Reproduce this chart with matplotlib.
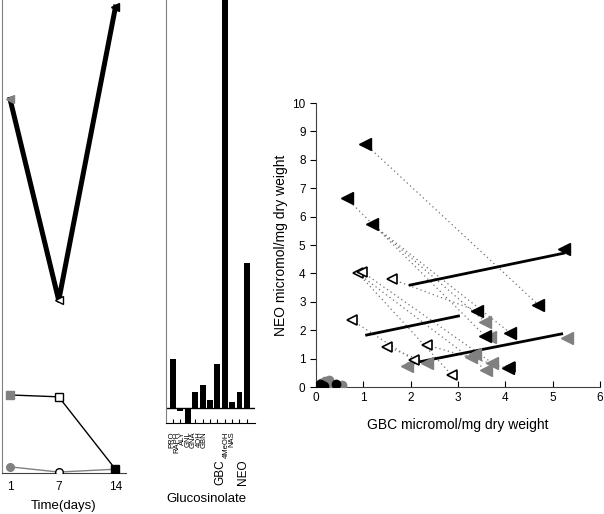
import numpy as np
import matplotlib.pyplot as plt

plt.rcParams['font.family'] = ['Liberation Sans', 'DejaVu Sans']

GRAY = '#808080'

# left panel: time course
days = [1, 7, 14]
neo_line = [7.9, 3.65, 9.85]
sq_line = [1.65, 1.61, 0.08]
circ_line = [0.13, 0.02, 0.08]
day_colors = [GRAY, 'white', 'black']

# middle panel: glucosinolate bars
gsl_names = ['PRO', 'RAPH', 'ALY', 'GNL', 'GNA', '4OH', 'GBN', 'GBC', '4MeOH', 'NAS', 'NEO']
gsl_values = [4.9, -0.3, -1.6, 1.6, 2.3, 0.8, 4.4, 45.0, 0.6, 1.6, 14.5]

# right panel: NEO vs GBC
blk_x = [1.04, 0.65, 1.18, 5.23, 3.40, 4.70, 4.10, 3.57, 4.05]
blk_y = [8.56, 6.64, 5.74, 4.86, 2.68, 2.89, 1.91, 1.80, 0.66]
open_x = [0.89, 0.97, 1.60, 0.75, 1.49, 2.34, 2.06, 2.87, 4.10]
open_y = [4.00, 4.06, 3.80, 2.36, 1.42, 1.48, 0.95, 0.42, 0.70]
gray_x = [3.57, 3.67, 3.27, 3.36, 3.71, 3.59, 5.30, 1.92, 2.34]
gray_y = [2.30, 1.75, 1.05, 1.15, 0.86, 0.60, 1.71, 0.74, 0.86]
bcirc_x = [0.02, 0.05, 0.08, 0.12, 0.17, 0.42]
bcirc_y = [0.00, 0.05, 0.10, 0.08, 0.05, 0.12]
gcirc_x = [0.10, 0.20, 0.27, 0.33, 0.55]
gcirc_y = [0.15, 0.20, 0.25, 0.10, 0.08]
# dotted connections (x0, y0, x1, y1)
links = [
    (1.04, 8.56, 4.70, 2.89),
    (0.65, 6.64, 3.57, 1.80),
    (1.18, 5.74, 4.10, 1.91),
    (1.18, 5.74, 3.57, 2.30),
    (0.89, 4.00, 3.59, 0.60),
    (0.97, 4.06, 3.71, 0.86),
    (1.60, 3.80, 3.40, 2.68),
    (0.75, 2.36, 2.06, 0.95),
    (0.89, 4.00, 2.87, 0.42),
    (1.49, 1.42, 2.34, 0.86),
    (2.34, 1.48, 4.05, 0.66),
]
# fitted lines (x0, y0, x1, y1)
fits = [
    (1.99, 3.59, 5.23, 4.71),
    (1.07, 1.83, 3.01, 2.50),
    (1.95, 0.81, 5.19, 1.87),
]

fig = plt.figure(figsize=(6.04, 5.14), dpi=100)

# ---- left panel
ax1 = fig.add_axes([2/604, 41/514, 124/604, 473/514])
ax1.plot(days, neo_line, color='black', lw=3.6, zorder=2)
ax1.plot(days, sq_line, color='black', lw=1.0, zorder=2)
ax1.plot(days, circ_line, color=GRAY, lw=1.0, zorder=2)
for d, c, y1, y2, y3 in zip(days, day_colors, neo_line, sq_line, circ_line):
    ec = GRAY if c == GRAY else 'black'
    ax1.plot(d, y1, marker='<', ms=6, mfc=c, mec=ec, mew=1, zorder=3)
    ax1.plot(d, y2, marker='s', ms=6, mfc=c, mec=ec, mew=1, zorder=3)
    ax1.plot(d, y3, marker='o', ms=5.5, mfc=c, mec=ec, mew=1, zorder=3)
ax1.set_xlim(0, 15.3)
ax1.set_ylim(0, 10)
ax1.set_xticks(days)
ax1.set_yticks([])
ax1.tick_params(axis='x', length=0, labelsize=8.5, pad=6)
ax1.spines['top'].set_visible(False)
ax1.spines['right'].set_visible(False)
ax1.spines['left'].set_color(GRAY)
ax1.spines['bottom'].set_color('#404040')
ax1.set_xlabel('Time(days)', fontsize=9.5, labelpad=5)
ax1.patch.set_alpha(0)

# ---- middle panel
ax2 = fig.add_axes([166/604, 91/514, 89/604, 423/514])
pos = np.arange(len(gsl_names))
ax2.bar(pos, gsl_values, width=0.8, color='black', zorder=2)
ax2.axhline(0, color='black', lw=1.0)
ax2.set_xlim(-0.95, 11.1)
ax2.set_ylim(-1.5, 40.8)
ax2.set_yticks([])
ax2.set_xticks(pos)
ax2.set_xticklabels([])
ax2.tick_params(axis='x', direction='in', length=3, width=0.8)
ax2.spines['top'].set_visible(False)
ax2.spines['right'].set_visible(False)
ax2.spines['left'].set_color(GRAY)
# label columns are packed tighter than the bars in the original
label_x = [-0.20, 0.54, 1.29, 2.03, 2.78, 3.52, 4.27, 6.36, 7.17, 7.99, 9.47]
for lx, name in zip(label_x, gsl_names):
    big = name in ('GBC', 'NEO')
    ax2.annotate(name, xy=(lx, 0), xycoords=('data', 'axes fraction'),
                 xytext=(0, -26 if big else -6), textcoords='offset points',
                 rotation=90, ha='center', va='top', fontsize=8.5 if big else 5.5)
ax2.text(0.45, -0.18, 'Glucosinolate', transform=ax2.transAxes, ha='center', va='center', fontsize=9.5)

# ---- right panel
ax3 = fig.add_axes([316/604, 127/514, 284/604, 284/514])
for x0, y0, x1, y1 in links:
    ax3.plot([x0, x1], [y0, y1], ls=(0, (1, 2.5)), color='#707070', lw=0.9, zorder=1)
for x0, y0, x1, y1 in fits:
    ax3.plot([x0, x1], [y0, y1], color='black', lw=2.0, zorder=2)
ax3.plot(gcirc_x, gcirc_y, 'o', ms=6, mfc=GRAY, mec=GRAY, zorder=3)
ax3.plot(bcirc_x, bcirc_y, 'o', ms=6, mfc='black', mec='black', zorder=3)
ax3.plot(gray_x, gray_y, '<', ms=8, mfc=GRAY, mec=GRAY, zorder=3)
ax3.plot(open_x, open_y, '<', ms=7.5, mfc='white', mec='black', mew=1.2, zorder=3)
ax3.plot(blk_x, blk_y, '<', ms=8, mfc='black', mec='black', zorder=4)
ax3.set_xlim(0, 6)
ax3.set_ylim(0, 10)
ax3.set_xticks(range(7))
ax3.set_yticks(range(11))
ax3.tick_params(axis='x', direction='in', length=4, labelsize=8.5)
ax3.tick_params(axis='y', direction='out', length=4, labelsize=8.5)
ax3.spines['top'].set_visible(False)
ax3.spines['right'].set_visible(False)
ax3.spines['left'].set_color('#404040')
ax3.spines['bottom'].set_color('#404040')
ax3.set_xlabel('GBC micromol/mg dry weight', fontsize=10, labelpad=10)
ax3.set_ylabel('NEO micromol/mg dry weight', fontsize=10, labelpad=3)
for sp in ax3.spines.values():
    sp.set_clip_on(False)

fig.savefig('out.png', dpi=100)
